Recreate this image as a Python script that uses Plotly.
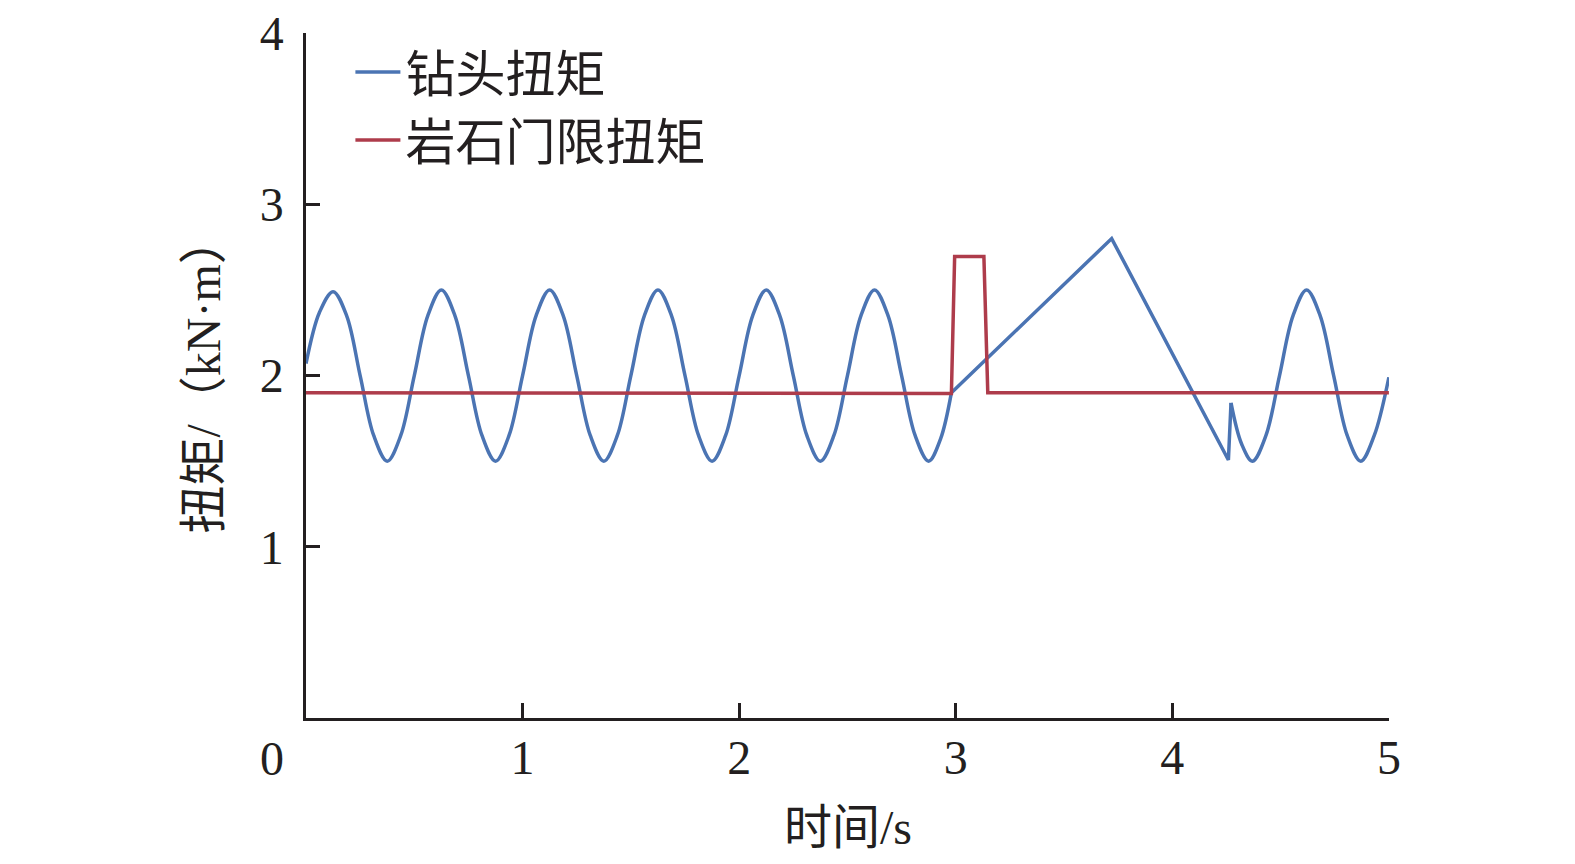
import plotly.graph_objects as go

# Bit torque (blue), split into smooth / straight pieces
bit_x1 = [0, 0.0625, 0.125, 0.1875, 0.25, 0.3125, 0.375, 0.4375,
          0.5, 0.5625, 0.625, 0.6875, 0.75, 0.8125, 0.875, 0.9375,
          1.0, 1.0625, 1.125, 1.1875, 1.25, 1.3125, 1.375, 1.4375,
          1.5, 1.5625, 1.625, 1.6875, 1.75, 1.8125, 1.875, 1.9375,
          2.0, 2.0625, 2.125, 2.1875, 2.25, 2.3125, 2.375, 2.4375,
          2.5, 2.5625, 2.625, 2.6875, 2.75, 2.8125, 2.875, 2.93, 2.98]
bit_y1 = [2.07, 2.37, 2.49, 2.35, 2.0, 1.65, 1.5, 1.65,
          2.0, 2.35, 2.5, 2.35, 2.0, 1.65, 1.5, 1.65,
          2.0, 2.35, 2.5, 2.35, 2.0, 1.65, 1.5, 1.65,
          2.0, 2.35, 2.5, 2.35, 2.0, 1.65, 1.5, 1.65,
          2.0, 2.35, 2.5, 2.35, 2.0, 1.65, 1.5, 1.65,
          2.0, 2.35, 2.5, 2.35, 2.0, 1.65, 1.5, 1.63, 1.9]
bit_x2 = [2.98, 3.72, 4.259, 4.271]
bit_y2 = [1.9, 2.8, 1.507, 1.84]
bit_x3 = [4.271, 4.32, 4.37, 4.4325, 4.495, 4.5575, 4.62, 4.6825,
          4.745, 4.8075, 4.87, 4.9325, 5.0]
bit_y3 = [1.84, 1.6, 1.5, 1.65, 2.0, 2.35, 2.5, 2.35,
          2.0, 1.65, 1.5, 1.65, 1.99]

# Rock threshold torque (red)
rock_x = [0, 2.505, 2.505, 2.98, 2.995, 3.13, 3.148, 5.0]
rock_y = [1.9, 1.9, 1.895, 1.895, 2.695, 2.695, 1.9, 1.9]

x_ticks = [1, 2, 3, 4, 5]
y_ticks = [1, 2, 3, 4]

names = ["钻头扭矩", "岩石门限扭矩"]
x_title = "时间/s"
y_title = "扭矩/（kN·m）"

BLUE = "#4b74b3"
RED = "#ae3c4b"
AX = "#231f20"
FONT = "Liberation Serif, Noto Sans CJK SC, serif"
LW = 3.5

fig = go.Figure()
fig.add_trace(go.Scatter(x=bit_x1, y=bit_y1, mode="lines", name=names[0],
                         legendgroup="bit", line=dict(color=BLUE, width=LW, shape="spline")))
fig.add_trace(go.Scatter(x=bit_x2, y=bit_y2, mode="lines", name=names[0],
                         legendgroup="bit", showlegend=False,
                         line=dict(color=BLUE, width=LW)))
fig.add_trace(go.Scatter(x=bit_x3, y=bit_y3, mode="lines", name=names[0],
                         legendgroup="bit", showlegend=False,
                         line=dict(color=BLUE, width=LW, shape="spline")))
fig.add_trace(go.Scatter(x=rock_x, y=rock_y, mode="lines", name=names[1],
                         line=dict(color=RED, width=LW)))

fig.update_layout(
    width=1575, height=864,
    margin=dict(l=298, r=194, t=25, b=154, autoexpand=False),
    paper_bgcolor="white", plot_bgcolor="white",
    font=dict(family=FONT, color=AX, size=48),
    showlegend=True,
    legend=dict(x=0.041, y=1.0, xanchor="left", yanchor="top",
                bgcolor="rgba(0,0,0,0)", font=dict(size=50, family=FONT, color=AX),
                tracegroupgap=0, itemwidth=45),
    xaxis=dict(range=[0, 5.0005], tickvals=x_ticks, ticktext=[str(v) for v in x_ticks],
               ticks="inside", ticklen=15, tickwidth=2.5, tickcolor=AX,
               showline=True, linecolor=AX, linewidth=2.5, mirror=False,
               showgrid=False, zeroline=False, ticklabelstandoff=-4,
               ticklabeloverflow="allow", automargin=False,
               tickfont=dict(size=48, family=FONT, color=AX)),
    yaxis=dict(range=[0, 4.0005], tickvals=y_ticks, ticktext=[str(v) for v in y_ticks],
               ticks="inside", ticklen=14, tickwidth=2.5, tickcolor=AX,
               showline=True, linecolor=AX, linewidth=2.5, mirror=False,
               showgrid=False, zeroline=False, ticklabelstandoff=10,
               ticklabeloverflow="allow", automargin=False,
               tickfont=dict(size=48, family=FONT, color=AX)),
)

fig.add_annotation(text="0", x=0, y=0, xref="x", yref="y", showarrow=False,
                   xshift=-34, yshift=-40, font=dict(size=48, family=FONT, color=AX))
fig.add_annotation(text=x_title, x=0.5, y=0, xref="paper", yref="paper",
                   showarrow=False, yanchor="middle", yshift=-109,
                   font=dict(size=48, family=FONT, color=AX))
fig.add_annotation(text=y_title, x=0, y=0.5, xref="paper", yref="paper",
                   showarrow=False, textangle=-90, xanchor="center", xshift=-103,
                   font=dict(size=48, family=FONT, color=AX))

fig.write_html("out.html")
